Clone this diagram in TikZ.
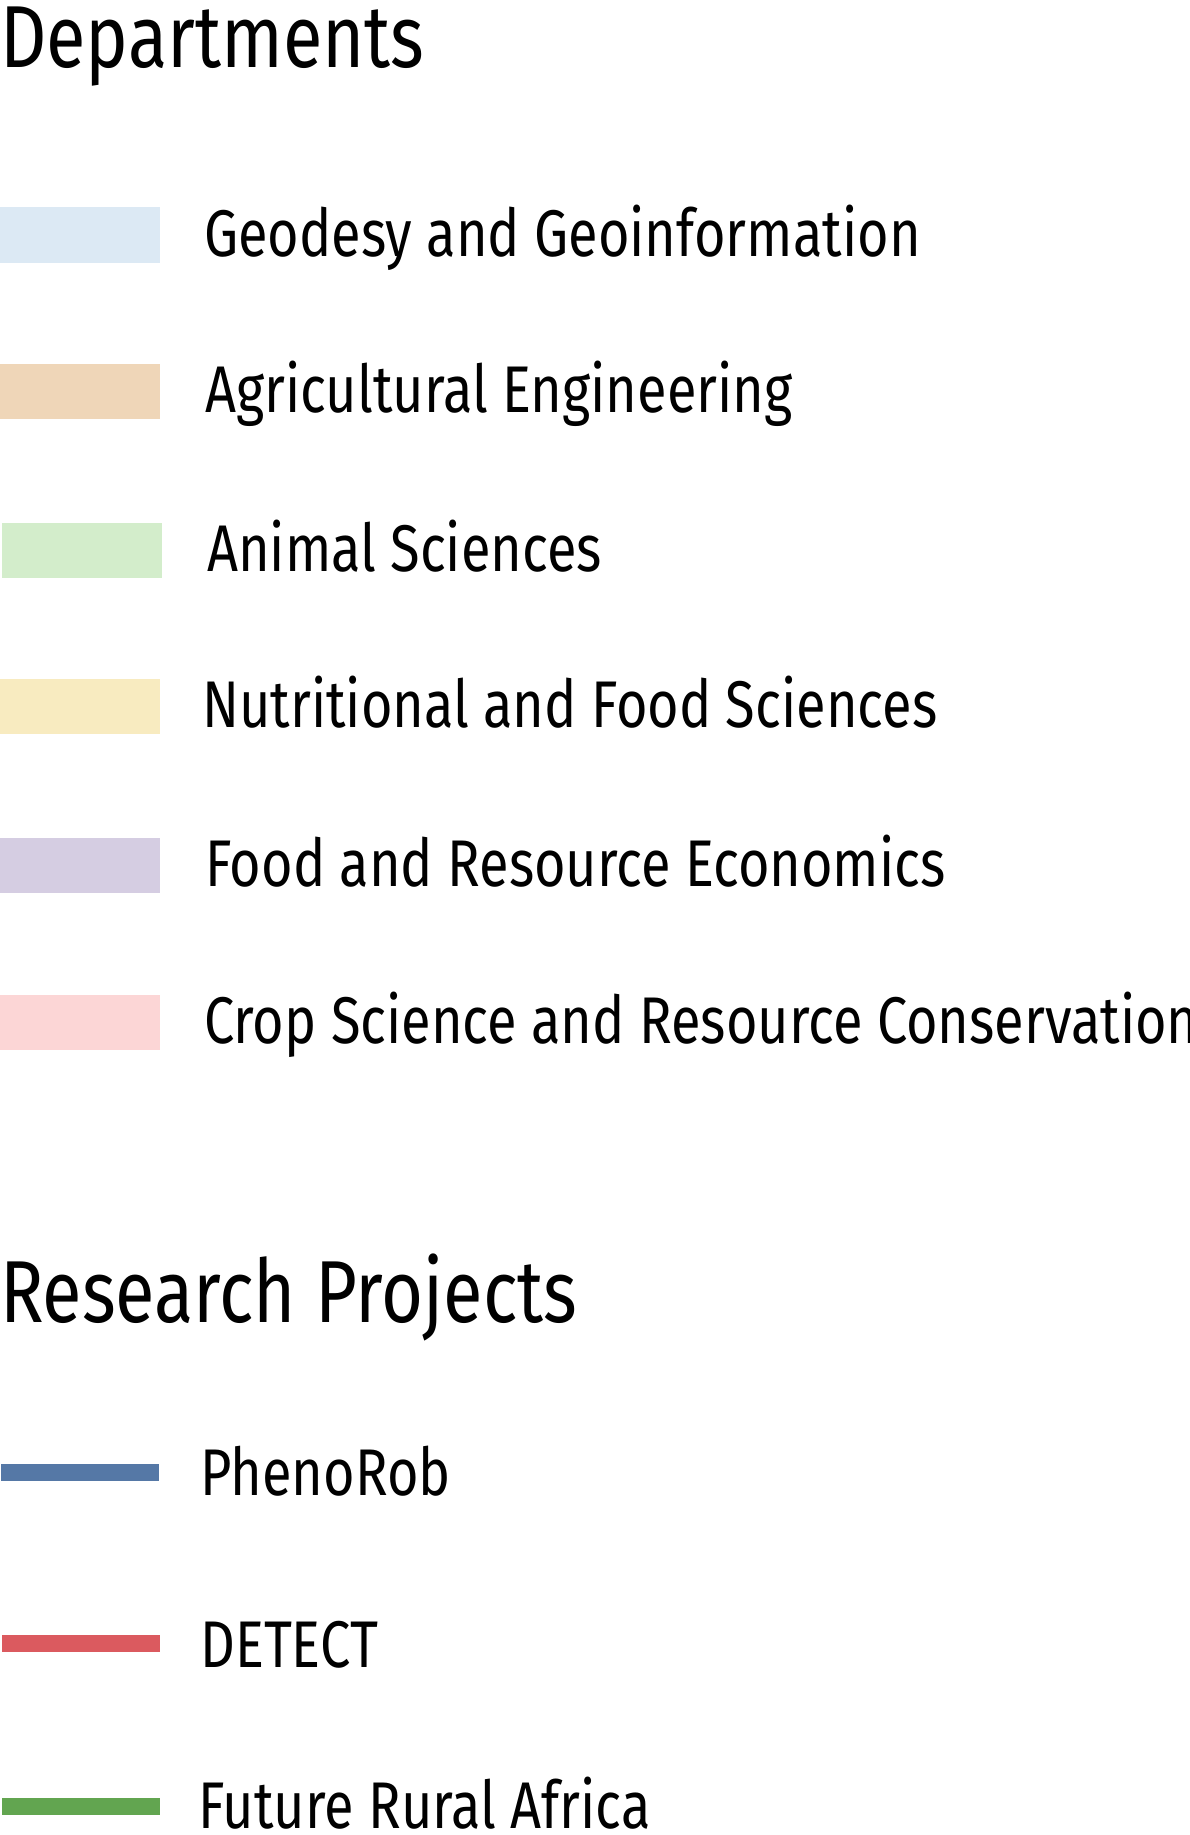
\documentclass[tikz,border=0pt]{standalone}
\usepackage{fontspec}
\setmainfont{Fira Sans}[FakeStretch=0.82]
\definecolor{cgeo}{HTML}{DCE9F4}
\definecolor{cagr}{HTML}{EFD6B8}
\definecolor{cani}{HTML}{D3EDCB}
\definecolor{cnut}{HTML}{F8EBC0}
\definecolor{cfre}{HTML}{D5CDE2}
\definecolor{ccrp}{HTML}{FCD6D6}
\definecolor{lblue}{HTML}{5578A6}
\definecolor{lred}{HTML}{DB5A5F}
\definecolor{lgreen}{HTML}{62A550}
\begin{document}
\begin{tikzpicture}[x=1pt,y=-1pt,
  heading/.style={anchor=base west,inner sep=0pt,font=\fontsize{88}{94}\selectfont},
  label/.style={anchor=base west,inner sep=0pt,font=\fontsize{66}{72}\selectfont},
  swatch/.style={anchor=west,inner sep=0pt,minimum width=160pt,minimum height=55pt,draw=none},
  projline/.style={line width=17pt}]
\useasboundingbox (0,0) rectangle (1190,1835);
\node[heading] (hdep) at (0,68) {Departments};
\node[swatch,fill=cgeo] (s1) at (0,235) {};
\node[label] (t1) at (204,256) {Geodesy and Geoinformation};
\node[swatch,fill=cagr] (s2) at (0,391) {};
\node[label] (t2) at (205,412) {Agricultural Engineering};
\node[swatch,fill=cani] (s3) at (2,550) {};
\node[label] (t3) at (207,571) {Animal Sciences};
\node[swatch,fill=cnut] (s4) at (0,706) {};
\node[label] (t4) at (202,727) {Nutritional and Food Sciences};
\node[swatch,fill=cfre] (s5) at (0,865) {};
\node[label] (t5) at (205,886) {Food and Resource Economics};
\node[swatch,fill=ccrp] (s6) at (0,1022) {};
\node[label] (t6) at (204,1043) {Crop Science and Resource Conservation};
\node[heading] (hres) at (0,1322) {Research Projects};
\coordinate (p1a) at (1,1472); \coordinate (p1b) at (159,1472);
\draw[projline,lblue] (p1a) -- (p1b);
\node[label] (r1) at (200,1495) {PhenoRob};
\coordinate (p2a) at (2,1643); \coordinate (p2b) at (160,1643);
\draw[projline,lred] (p2a) -- (p2b);
\node[label] (r2) at (200,1667) {DETECT};
\coordinate (p3a) at (2,1806); \coordinate (p3b) at (160,1806);
\draw[projline,lgreen] (p3a) -- (p3b);
\node[label] (r3) at (198,1828) {Future Rural Africa};
\end{tikzpicture}
\end{document}
